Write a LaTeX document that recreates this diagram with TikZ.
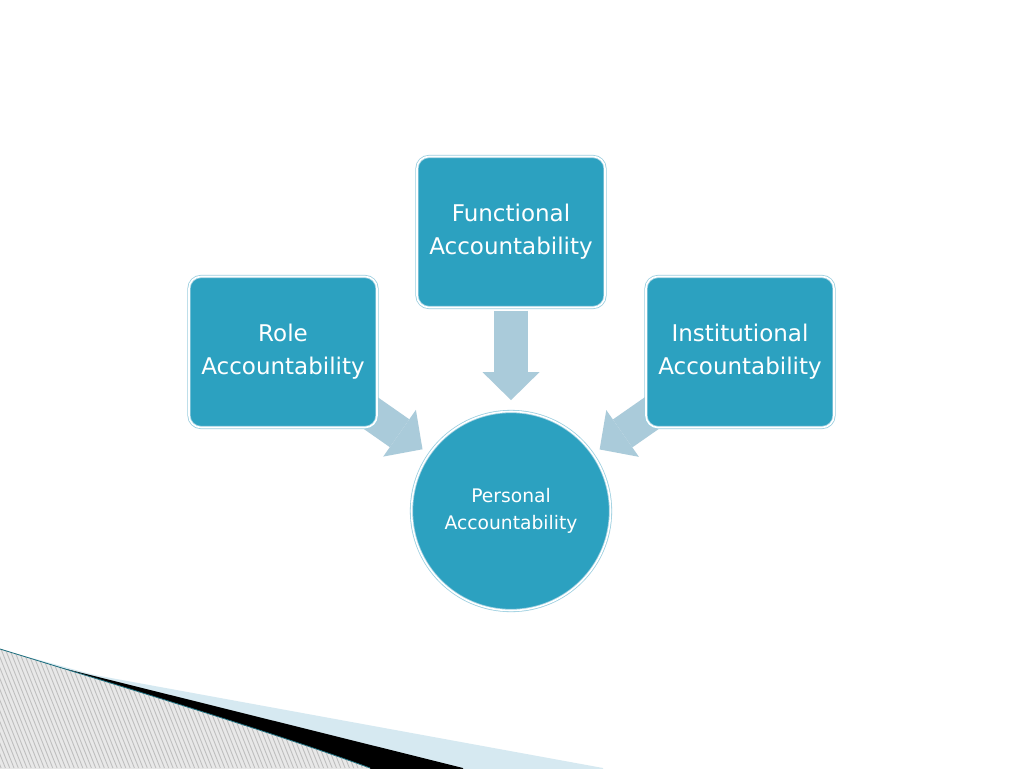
\documentclass[tikz,border=0pt]{standalone}
\usepackage{fontspec}
\setmainfont{DejaVu Sans}
\usetikzlibrary{backgrounds,arrows.meta}
\definecolor{boxblue}{HTML}{2CA1C0}
\definecolor{rimblue}{HTML}{9CCFE0}
\definecolor{flowblue}{HTML}{AACBDA}
\definecolor{paleblue}{HTML}{D6E9F1}
\definecolor{edgeteal}{HTML}{1C6E7E}

\begin{document}
\begin{tikzpicture}[x=1pt, y=-1pt,
  box/.style={draw=rimblue, double=white, double distance=1.6pt, line width=0.8pt,
    fill=boxblue, rounded corners=12pt, minimum width=188pt, minimum height=151pt,
    align=center, text=white, font=\fontsize{23}{33}\selectfont},
  hub/.style={circle, draw=rimblue, double=white, double distance=1.6pt, line width=0.8pt,
    fill=boxblue, minimum size=199pt, align=center, text=white,
    font=\fontsize{18.7}{27}\selectfont},
  flow/.style={draw=flowblue, line width=34pt,
    -{Triangle[length=28pt,width=57pt,line width=0pt]}, shorten >=8pt}]
\useasboundingbox (0,0) rectangle (1024,768);
\begin{scope}[on background layer]
\fill[white] (0,0) rectangle (1024,768);
\end{scope}

% slide corner
\begin{scope}
\clip (0,0) rectangle (1024,768);
\fill[paleblue] (0,650) .. controls (50,662) and (80,672) .. (100,676) -- (603,768) -- (603,800) -- (0,800) -- cycle;
\fill[black] (0,649) .. controls (20,655) and (35,661) .. (50,665) -- (463,768) -- (463,800) -- (0,800) -- cycle;
\begin{scope}
\clip (0,649) .. controls (150,695) and (280,735) .. (370,768) -- (370,800) -- (0,800) -- cycle;
\fill[gray!18] (0,600) rectangle (400,800);
\foreach \x in {-80,-75.7,...,380}
  \draw[gray!50, line width=0.9pt] (\x,640) -- (\x+51,768);
\end{scope}
\draw[edgeteal, line width=0.8pt] (0,649) .. controls (150,695) and (280,735) .. (370,768);
\end{scope}

\node[box] (func) at (511,232) {Functional\\Accountability};
\node[box] (role) at (283,352) {Role\\Accountability};
\node[box] (inst) at (740,352) {Institutional\\Accountability};
\node[hub] (pers) at (511,511) {Personal\\Accountability};

\begin{scope}[on background layer]
\draw[flow, shorten <=3pt, shorten >=11pt] (func) -- (pers);
\draw[flow, shorten <=-20pt] (role) -- (pers);
\draw[flow, shorten <=-20pt] (inst) -- (pers);
\end{scope}
\end{tikzpicture}
\end{document}
